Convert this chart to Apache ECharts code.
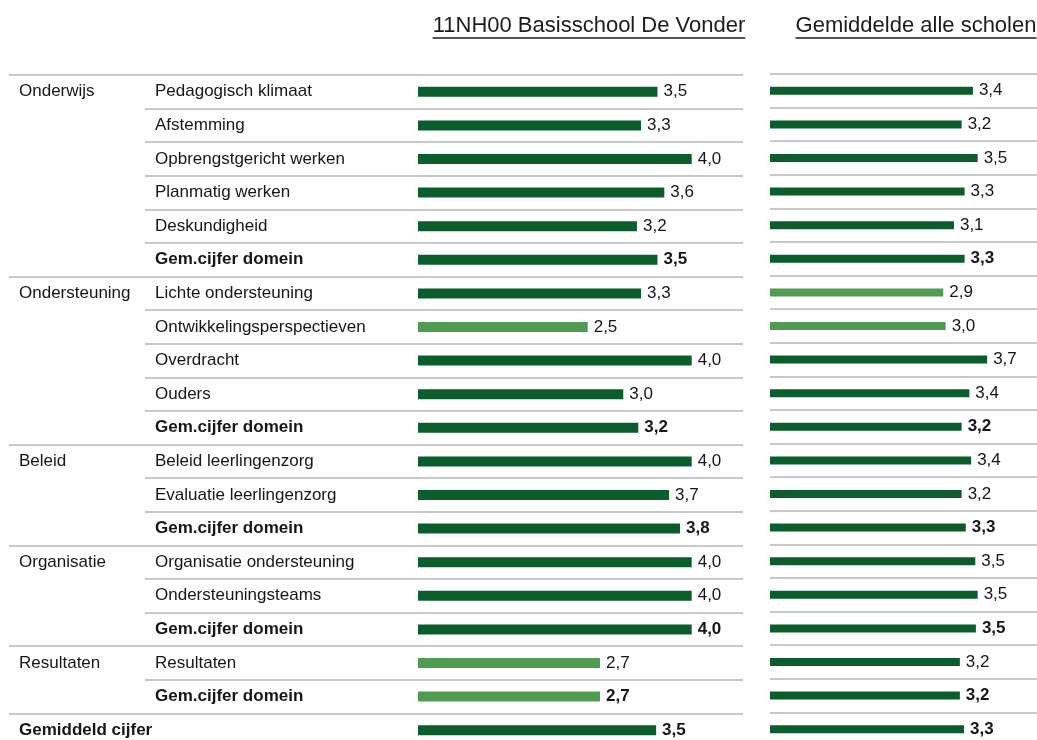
<!DOCTYPE html>
<html>
<head>
<meta charset="utf-8">
<title>Leerlingenzorg - De Vonder</title>
<script src="https://cdn.jsdelivr.net/npm/echarts@6/dist/echarts.min.js"></script>
<style>
html, body { margin: 0; padding: 0; background: #fff; overflow: hidden; }
#main { width: 1037px; height: 760px; }
</style>
</head>
<body>
<div id="main"></div>
<script type="text/javascript">
// domein per rij (alleen op de eerste rij van een domein)
var domeinen = ['Onderwijs', '', '', '', '', '',
    'Ondersteuning', '', '', '', '',
    'Beleid', '', '',
    'Organisatie', '', '',
    'Resultaten', '',
    'Gemiddeld cijfer'];
var onderdelen = ['Pedagogisch klimaat', 'Afstemming', 'Opbrengstgericht werken', 'Planmatig werken', 'Deskundigheid', 'Gem.cijfer domein',
    'Lichte ondersteuning', 'Ontwikkelingsperspectieven', 'Overdracht', 'Ouders', 'Gem.cijfer domein',
    'Beleid leerlingenzorg', 'Evaluatie leerlingenzorg', 'Gem.cijfer domein',
    'Organisatie ondersteuning', 'Ondersteuningsteams', 'Gem.cijfer domein',
    'Resultaten', 'Gem.cijfer domein',
    ''];
var schoolScores = [3.50, 3.26, 4.00, 3.60, 3.20, 3.50,
    3.26, 2.48, 4.00, 3.00, 3.22,
    4.00, 3.67, 3.83,
    4.00, 4.00, 4.00,
    2.66, 2.66,
    3.48];
var alleScholen = [3.42, 3.23, 3.50, 3.28, 3.10, 3.28,
    2.92, 2.96, 3.66, 3.36, 3.23,
    3.39, 3.23, 3.30,
    3.46, 3.50, 3.47,
    3.20, 3.20,
    3.27];
var titels = ['11NH00 Basisschool De Vonder', 'Gemiddelde alle scholen'];

var font = '"Liberation Sans", Arial, sans-serif';
var donkerGroen = '#0b5e2c';
var lichtGroen = '#4f9b52';
var lijnKleur = '#c8c8c8';
var tekstKleur = '#161616';

function isVet(i) {
    return onderdelen[i] === 'Gem.cijfer domein' || domeinen[i] === 'Gemiddeld cijfer';
}

function maakData(waarden) {
    return waarden.map(function (v, i) {
        return {
            value: v,
            itemStyle: { color: v < 3 ? lichtGroen : donkerGroen },
            label: { fontWeight: isVet(i) ? 'bold' : 'normal' }
        };
    });
}

function labelAs(data, interval) {
    return {
        type: 'category', inverse: true, data: data,
        axisLine: { show: false }, axisTick: { show: false },
        axisLabel: {
            inside: true, margin: 10, align: 'left', interval: 0,
            fontSize: 17, fontFamily: font, color: tekstKleur,
            formatter: function (val, idx) { return isVet(idx) && val ? '{v|' + val + '}' : val; },
            rich: { v: { fontWeight: 'bold', fontSize: 17, fontFamily: font, color: tekstKleur } }
        },
        splitLine: { show: true, interval: interval, lineStyle: { color: lijnKleur, width: 2 } }
    };
}

function barAs(gridIndex) {
    return {
        type: 'category', inverse: true, data: onderdelen, gridIndex: gridIndex,
        axisLine: { show: false }, axisTick: { show: false }, axisLabel: { show: false },
        splitLine: { show: true, interval: 0, lineStyle: { color: lijnKleur, width: 2 } }
    };
}

var waardeLabel = {
    show: true, position: 'right', distance: 6,
    fontSize: 17, fontFamily: font, color: tekstKleur,
    formatter: function (p) { return p.value.toFixed(1).replace('.', ','); }
};

// titels met onderstreping
var titelFont = '22px ' + font;
var meet = document.createElement('canvas').getContext('2d');
meet.font = titelFont;
var titelX = [589, 916];
var graphics = [];
titels.forEach(function (t, i) {
    var w = meet.measureText(t).width;
    graphics.push({
        type: 'text', left: titelX[i] - w / 2, top: 15,
        style: { text: t, font: titelFont, fill: '#1c1c1c' }
    });
    graphics.push({
        type: 'line', silent: true,
        shape: { x1: titelX[i] - w / 2, y1: 38, x2: titelX[i] + w / 2, y2: 38 },
        style: { stroke: '#1c1c1c', lineWidth: 1.5 }
    });
});

var myChart = echarts.init(document.getElementById('main'));
var domeinAs = labelAs(domeinen, function (idx) { return domeinen[idx] !== ''; });
domeinAs.gridIndex = 0;
var onderdeelAs = labelAs(onderdelen, 0);
onderdeelAs.gridIndex = 1;

var option = {
    animation: false,
    backgroundColor: '#fff',
    textStyle: { fontFamily: font },
    graphic: graphics,
    grid: [
        { left: 9, top: 75, width: 136, height: 672 },
        { left: 145, top: 75, width: 273, height: 672 },
        { left: 418, top: 75, width: 325, height: 672 },
        { left: 770, top: 74, width: 267, height: 672 }
    ],
    xAxis: [
        { type: 'value', gridIndex: 0, show: false, min: 0, max: 1 },
        { type: 'value', gridIndex: 1, show: false, min: 0, max: 1 },
        { type: 'value', gridIndex: 2, show: false, min: 0, max: 4.75 },
        { type: 'value', gridIndex: 3, show: false, min: 0, max: 4.5 }
    ],
    yAxis: [domeinAs, onderdeelAs, barAs(2), barAs(3)],
    series: [
        {
            name: 'De Vonder', type: 'bar', xAxisIndex: 2, yAxisIndex: 2,
            barWidth: 10, data: maakData(schoolScores), label: waardeLabel
        },
        {
            name: 'Alle scholen', type: 'bar', xAxisIndex: 3, yAxisIndex: 3,
            barWidth: 8, data: maakData(alleScholen), label: waardeLabel
        }
    ]
};
myChart.setOption(option);
</script>
</body>
</html>
